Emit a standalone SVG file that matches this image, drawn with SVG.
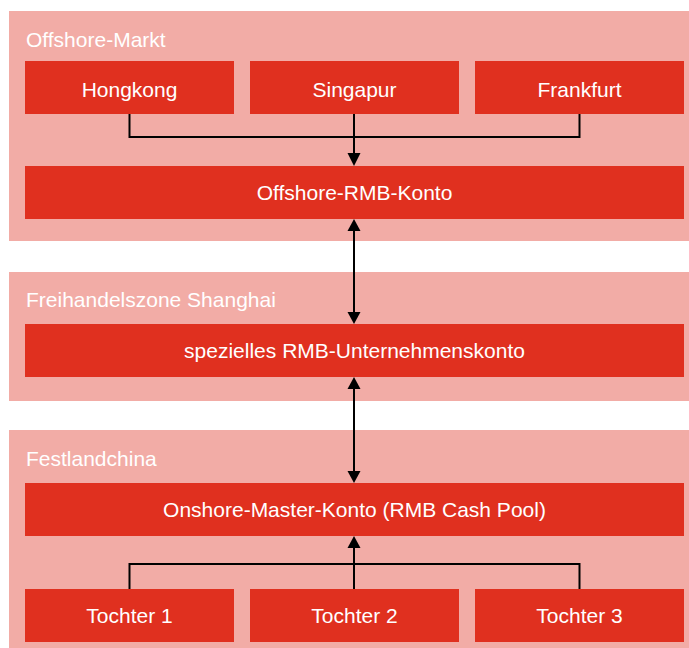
<svg xmlns="http://www.w3.org/2000/svg" width="689" height="648" viewBox="0 0 689 648">
<style>
.panel{fill:#F2ACA6}
.box{fill:#E0301F}
.t{font-family:"Liberation Sans",Arial,sans-serif;font-size:21px;fill:#FFFFFF}
.c{text-anchor:middle}
.ln{stroke:#000;stroke-width:2;fill:none}
.hd{fill:#000}
</style>
<rect width="689" height="648" fill="#FFFFFF"/>
<g id="panel-offshore">
<rect class="panel" x="9" y="11" width="700" height="230"/>
<text class="t" x="26" y="47">Offshore-Markt</text>
</g>
<g id="panel-ftz">
<rect class="panel" x="9" y="272" width="700" height="129"/>
<text class="t" x="26" y="307">Freihandelszone Shanghai</text>
</g>
<g id="panel-mainland">
<rect class="panel" x="9" y="430" width="700" height="230"/>
<text class="t" x="26" y="466">Festlandchina</text>
</g>
<g id="connectors">
<path class="ln" d="M129.5 114V137H579.5V114"/>
<path class="ln" d="M354 114V154"/>
<polygon class="hd" points="347.5,153 360.5,153 354,166"/>
<path class="ln" d="M354 230V313"/>
<polygon class="hd" points="347.5,231 360.5,231 354,219"/>
<polygon class="hd" points="347.5,312 360.5,312 354,324"/>
<path class="ln" d="M354 388V472"/>
<polygon class="hd" points="347.5,389 360.5,389 354,377"/>
<polygon class="hd" points="347.5,471 360.5,471 354,483"/>
<path class="ln" d="M129.5 589V564H579.5V589"/>
<path class="ln" d="M354 589V547"/>
<polygon class="hd" points="347.5,548 360.5,548 354,536"/>
</g>
<g id="hongkong">
<rect class="box" x="25" y="61" width="209" height="53"/>
<text class="t c" x="129.5" y="97">Hongkong</text>
</g>
<g id="singapur">
<rect class="box" x="250" y="61" width="209" height="53"/>
<text class="t c" x="354.5" y="97">Singapur</text>
</g>
<g id="frankfurt">
<rect class="box" x="475" y="61" width="209" height="53"/>
<text class="t c" x="579.5" y="97">Frankfurt</text>
</g>
<g id="offshore-rmb">
<rect class="box" x="25" y="166" width="659" height="53"/>
<text class="t c" x="354.5" y="200">Offshore-RMB-Konto</text>
</g>
<g id="spezielles">
<rect class="box" x="25" y="324" width="659" height="53"/>
<text class="t c" x="354.5" y="358">spezielles RMB-Unternehmenskonto</text>
</g>
<g id="onshore-master">
<rect class="box" x="25" y="483" width="659" height="53"/>
<text class="t c" x="354.5" y="517">Onshore-Master-Konto (RMB Cash Pool)</text>
</g>
<g id="tochter1">
<rect class="box" x="25" y="589" width="209" height="53"/>
<text class="t c" x="129.5" y="623">Tochter 1</text>
</g>
<g id="tochter2">
<rect class="box" x="250" y="589" width="209" height="53"/>
<text class="t c" x="354.5" y="623">Tochter 2</text>
</g>
<g id="tochter3">
<rect class="box" x="475" y="589" width="209" height="53"/>
<text class="t c" x="579.5" y="623">Tochter 3</text>
</g>
</svg>
